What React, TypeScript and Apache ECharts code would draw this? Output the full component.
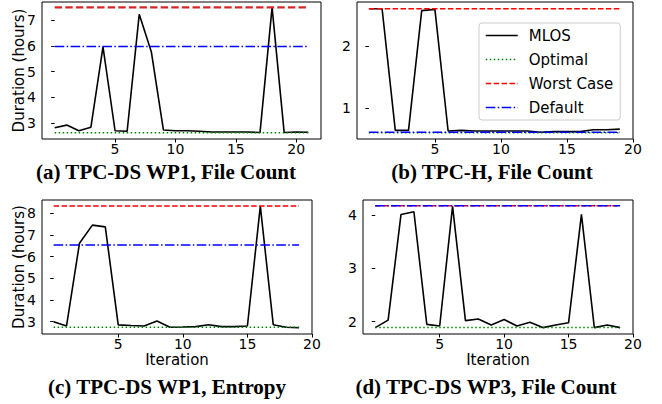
import React, { useEffect, useRef } from "react";
import * as echarts from "echarts";

// ---- Data ----
const iterA = [0, 1, 2, 3, 4, 5, 6, 7, 8, 9, 10, 11, 12, 13, 14, 15, 16, 17, 18, 19, 20, 21];
const mlosA = [2.82, 2.92, 2.70, 2.84, 5.96, 2.70, 2.68, 7.22, 5.77, 2.73, 2.70, 2.70, 2.68, 2.65, 2.65, 2.65, 2.65, 2.63, 7.49, 2.63, 2.65, 2.64];
const optimalA = 2.62;
const worstA = 7.49;
const defaultA = 5.97;

const iterB = [0, 1, 2, 3, 4, 5, 6, 7, 8, 9, 10, 11, 12, 13, 14, 15, 16, 17, 18, 19];
const mlosB = [2.61, 2.61, 0.64, 0.64, 2.58, 2.60, 0.63, 0.64, 0.63, 0.63, 0.63, 0.63, 0.63, 0.61, 0.62, 0.62, 0.62, 0.65, 0.65, 0.66];
const optimalB = 0.60;
const worstB = 2.61;
const defaultB = 0.61;

const iterC = [0, 1, 2, 3, 4, 5, 6, 7, 8, 9, 10, 11, 12, 13, 14, 15, 16, 17, 18, 19];
const mlosC = [3.00, 2.80, 6.62, 7.46, 7.38, 2.85, 2.82, 2.80, 3.03, 2.74, 2.75, 2.77, 2.86, 2.77, 2.77, 2.80, 8.34, 2.86, 2.74, 2.72];
const optimalC = 2.74;
const worstC = 8.34;
const defaultC = 6.54;

const iterD = [0, 1, 2, 3, 4, 5, 6, 7, 8, 9, 10, 11, 12, 13, 14, 15, 16, 17, 18, 19];
const mlosD = [1.89, 2.03, 4.01, 4.06, 1.95, 1.92, 4.16, 2.02, 2.05, 1.94, 2.04, 1.92, 1.99, 1.89, 1.94, 1.98, 4.01, 1.89, 1.94, 1.89];
const optimalD = 1.89;
const worstD = 4.17;
const defaultD = 4.17;

const xTicks = [5, 10, 15, 20];
const yTicksA = [3, 4, 5, 6, 7];
const yTicksB = [1, 2];
const yTicksC = [3, 4, 5, 6, 7, 8];
const yTicksD = [2, 3, 4];

const captions = [
  "(a) TPC-DS WP1, File Count",
  "(b) TPC-H, File Count",
  "(c) TPC-DS WP1, Entropy",
  "(d) TPC-DS WP3, File Count",
];
const seriesNames = ["MLOS", "Optimal", "Worst Case", "Default"];
const yName = "Duration (hours)";
const xName = "Iteration";

// ---- Layout ----
const SANS = "DejaVu Sans";
const SERIF = "Liberation Serif";

const panels = [
  { iter: iterA, mlos: mlosA, opt: optimalA, worst: worstA, def: defaultA, yTicks: yTicksA,
    grid: { left: 42, top: 2, width: 279, height: 137 }, x: [-1.05, 22.05], y: [2.38, 7.7],
    yLabel: true, xLabel: false, worstColor: "#d62728", worstWidth: 2.2, worstDash: [7.4, 3.2] },
  { iter: iterB, mlos: mlosB, opt: optimalB, worst: worstB, def: defaultB, yTicks: yTicksB,
    grid: { left: 357, top: 2, width: 276, height: 137 }, x: [-0.9, 20], y: [0.5, 2.72],
    yLabel: false, xLabel: false, worstColor: "#ff0000", worstWidth: 1.5, worstDash: [5.5, 2.4] },
  { iter: iterC, mlos: mlosC, opt: optimalC, worst: worstC, def: defaultC, yTicks: yTicksC,
    grid: { left: 42, top: 200, width: 270, height: 134 }, x: [-0.9, 20], y: [2.43, 8.62],
    yLabel: true, xLabel: true, worstColor: "#ff0000", worstWidth: 1.5, worstDash: [5.5, 2.4] },
  { iter: iterD, mlos: mlosD, opt: optimalD, worst: worstD, def: defaultD, yTicks: yTicksD,
    grid: { left: 363, top: 200, width: 270, height: 134 }, x: [-0.95, 20], y: [1.77, 4.28],
    yLabel: false, xLabel: true, worstColor: "#ff0000", worstWidth: 1.5, worstDash: [5.5, 2.4] },
];

const captionPos = [
  { x: 166, y: 172 },
  { x: 492, y: 172 },
  { x: 167, y: 387 },
  { x: 486, y: 387 },
];

function buildOption() {
  const grids: any[] = [];
  const xAxes: any[] = [];
  const yAxes: any[] = [];
  const series: any[] = [];

  panels.forEach((p, i) => {
    grids.push({
      ...p.grid,
      show: true,
      borderColor: "#000",
      borderWidth: 1,
      backgroundColor: "transparent",
      containLabel: false,
    });
    xAxes.push({
      type: "value",
      gridIndex: i,
      min: p.x[0],
      max: p.x[1],
      name: p.xLabel ? xName : "",
      nameLocation: "middle",
      nameGap: 18,
      nameMoveOverlap: false,
      nameTextStyle: { fontFamily: SANS, fontSize: 15, color: "#000", verticalAlign: "top" },
      axisLine: { show: false },
      axisTick: { show: true, length: 3.5, lineStyle: { color: "#000", width: 1 }, customValues: xTicks },
      axisLabel: { fontFamily: SANS, fontSize: 14, color: "#000", margin: 3, customValues: xTicks },
      splitLine: { show: false },
    });
    yAxes.push({
      type: "value",
      gridIndex: i,
      min: p.y[0],
      max: p.y[1],
      name: p.yLabel ? yName : "",
      nameLocation: "middle",
      nameGap: 16,
      nameMoveOverlap: false,
      nameTextStyle: { fontFamily: SANS, fontSize: 15, color: "#000" },
      axisLine: { show: false },
      axisTick: { show: true, length: 3.5, lineStyle: { color: "#000", width: 1 }, customValues: p.yTicks },
      axisLabel: { fontFamily: SANS, fontSize: 14, color: "#000", margin: 6, customValues: p.yTicks },
      splitLine: { show: false },
    });
    const first = p.iter[0];
    const last = p.iter[p.iter.length - 1];
    series.push({
      name: seriesNames[0], type: "line", xAxisIndex: i, yAxisIndex: i, symbol: "none",
      data: p.iter.map((x, k) => [x, p.mlos[k]]),
      lineStyle: { color: "#000", width: 1.6 }, itemStyle: { color: "#000" },
    });
    series.push({
      name: seriesNames[1], type: "line", xAxisIndex: i, yAxisIndex: i, symbol: "none",
      data: [[first, p.opt], [last, p.opt]],
      lineStyle: { color: "#008000", width: 1.5, type: [1.5, 2.5] }, itemStyle: { color: "#008000" },
    });
    series.push({
      name: seriesNames[2], type: "line", xAxisIndex: i, yAxisIndex: i, symbol: "none",
      data: [[first, p.worst], [last, p.worst]],
      lineStyle: { color: p.worstColor, width: p.worstWidth, type: p.worstDash }, itemStyle: { color: p.worstColor },
    });
    series.push({
      name: seriesNames[3], type: "line", xAxisIndex: i, yAxisIndex: i, symbol: "none",
      data: [[first, p.def], [last, p.def]],
      lineStyle: { color: "#0000ff", width: 1.5, type: [9.6, 2.4, 1.5, 2.4] }, itemStyle: { color: "#0000ff" },
    });
  });

  const graphics = captions.map((c, i) => ({
    type: "text",
    x: captionPos[i].x,
    y: captionPos[i].y,
    style: {
      text: c,
      fontFamily: SERIF,
      fontWeight: "bold",
      fontSize: 21,
      fill: "#000",
      textAlign: "center",
      textVerticalAlign: "middle",
    },
  }));

  const hidden = { opacity: 0, color: "transparent", borderWidth: 0 };

  return {
    animation: false,
    backgroundColor: "#fff",
    grid: grids,
    xAxis: xAxes,
    yAxis: yAxes,
    series,
    legend: {
      data: [
        { name: "MLOS", itemStyle: hidden, lineStyle: { color: "#000", width: 1.5, type: "solid" } },
        { name: "Optimal", itemStyle: hidden, lineStyle: { color: "#008000", width: 1.5, type: [1.5, 2.5] } },
        { name: "Worst Case", itemStyle: hidden, lineStyle: { color: "#ff0000", width: 1.5, type: [5.5, 2.4] } },
        { name: "Default", itemStyle: hidden, lineStyle: { color: "#0000ff", width: 1.5, type: [9.6, 2.4, 1.5, 2.4] } },
      ],
      orient: "vertical",
      left: 479,
      top: 23,
      itemWidth: 32,
      itemHeight: 15,
      itemGap: 9,
      padding: [5, 7, 5, 6],
      borderColor: "#cccccc",
      borderWidth: 1,
      borderRadius: 3,
      backgroundColor: "rgba(255,255,255,0.8)",
      selectedMode: false,
      textStyle: { fontFamily: SANS, fontSize: 15, color: "#000", padding: [0, 0, 0, 6] },
    },
    graphic: graphics,
  };
}

export default function App() {
  const ref = useRef<HTMLDivElement>(null);
  useEffect(() => {
    if (!ref.current) return;
    const chart = echarts.init(ref.current, undefined, { renderer: "svg" });
    chart.setOption(buildOption() as any);
    return () => chart.dispose();
  }, []);
  return (
    <div
      ref={ref}
      style={{ position: "fixed", left: 0, top: 0, width: 662, height: 404, background: "#fff" }}
    />
  );
}
